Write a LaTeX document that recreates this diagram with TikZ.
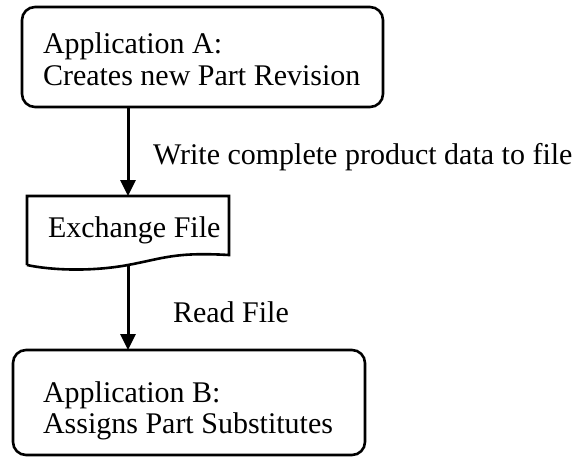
\documentclass[tikz,border=0pt]{standalone}
\usepackage{fontspec}
\setmainfont{Liberation Serif}
\usetikzlibrary{arrows.meta}
\begin{document}
\begin{tikzpicture}[x=1pt,y=-1pt,
  every node/.style={inner sep=0pt,outer sep=0pt},
  txt/.style={anchor=base west,font=\fontsize{30}{31}\selectfont},
  box/.style={draw,line width=2.6pt,rounded corners=13pt},
  flow/.style={line width=3pt,-{Triangle[width=15pt,length=16pt]}}]
\useasboundingbox (0,0) rectangle (579,458);
% top box
\draw[box] (22,7) rectangle (383,107);
\coordinate (aB) at (128,107);
\node[txt] (a1) at (43,53) {Application A:};
\node[txt] (a2) at (43,85) {Creates new Part Revision};
% exchange file
\draw[line width=2.6pt] (27,265) -- (27,196) -- (229,196) -- (229,255)
  .. controls (175,252) and (165,258) .. (128,265)
  .. controls (90,272) and (50,270) .. (27,265);
\coordinate (fT) at (128,196);
\coordinate (fB) at (128,266);
\node[txt] (f) at (48,237) {Exchange File};
% bottom box
\draw[box] (13,350) rectangle (365,455);
\coordinate (bT) at (128,350);
\node[txt] (b1) at (43,402) {Application B:};
\node[txt] (b2) at (43,433) {Assigns Part Substitutes};
% arrows
\draw[flow] (aB) -- (fT);
\draw[flow] (fB) -- (bT);
\node[txt] (l1) at (153,164) {Write complete product data to file};
\node[txt] (l2) at (173,322) {Read File};
\end{tikzpicture}
\end{document}
